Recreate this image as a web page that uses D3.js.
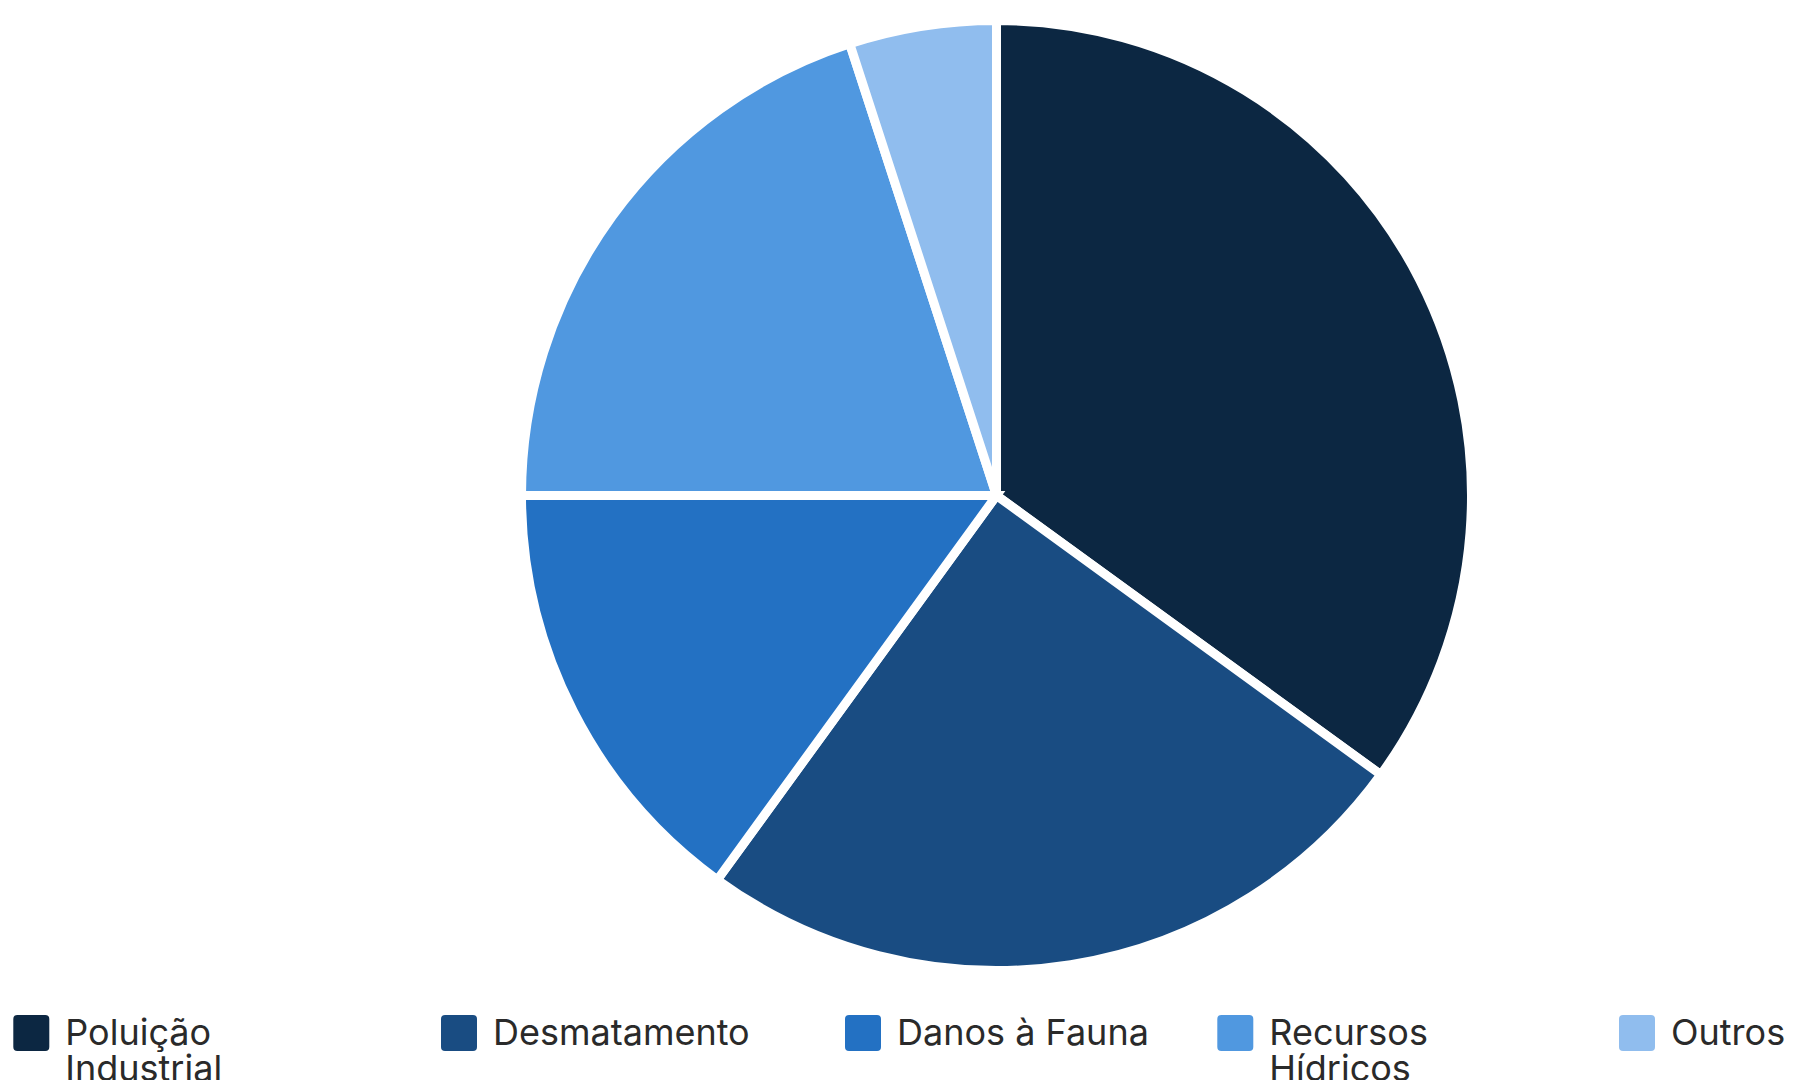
<!DOCTYPE html>
<html lang="pt">
<head>
<meta charset="utf-8">
<script src="https://cdn.jsdelivr.net/npm/d3@7"></script>
<style>
  html, body { margin: 0; padding: 0; background: #ffffff; }
  svg { display: block; }
</style>
</head>
<body>
<svg id="chart" width="1793" height="1080"></svg>
<script>
// ---- Data ----
const categories = ["Poluição Industrial", "Desmatamento", "Danos à Fauna", "Recursos Hídricos", "Outros"];
const values = [35, 25, 15, 20, 5];
const colors = ["#0c2742", "#194c82", "#2371c3", "#5098e0", "#90bdee"];

// ---- Layout ----
const W = 1793, H = 1080;
const cx = 996.5, cy = 495.5, outerR = 475;
const legendItemX = [13.3, 441, 845, 1217.3, 1619];
const legendTop = 1015, swatch = 36, swatchGap = 16;
const fontSize = 36, lineH = 36, wrapWidth = 265;

const svg = d3.select("#chart");

const pie = d3.pie().sort(null).value(d => d.value);
const arc = d3.arc().innerRadius(0).outerRadius(outerR);
const data = categories.map((c, i) => ({ name: c, value: values[i], color: colors[i] }));

const color = d3.scaleOrdinal().domain(categories).range(colors);

svg.append("g")
  .attr("transform", `translate(${cx},${cy})`)
  .selectAll("path")
  .data(pie(data))
  .join("path")
  .attr("d", arc)
  .attr("fill", d => color(d.data.name))
  .attr("stroke", "#ffffff")
  .attr("stroke-width", 9)
  .attr("stroke-linejoin", "miter");

// ---- Legend ----
const legend = svg.append("g").attr("font-family", "Inter, 'Noto Sans', sans-serif");
const items = legend.selectAll("g.item")
  .data(data)
  .join("g")
  .attr("class", "item")
  .attr("transform", (d, i) => `translate(${legendItemX[i]},${legendTop})`);

items.append("rect")
  .attr("width", swatch).attr("height", swatch)
  .attr("rx", 4).attr("ry", 4)
  .attr("fill", d => color(d.name));

items.each(function(d) {
  const g = d3.select(this);
  const text = g.append("text")
    .attr("x", swatch + swatchGap)
    .attr("y", 30)
    .attr("font-size", fontSize)
    .attr("fill", "#2a2a2a");
  const words = d.name.split(" ");
  let line = [];
  let tspan = text.append("tspan").attr("x", swatch + swatchGap).attr("dy", 0);
  words.forEach(w => {
    line.push(w);
    tspan.text(line.join(" "));
    if (tspan.node().getComputedTextLength() > wrapWidth && line.length > 1) {
      line.pop();
      tspan.text(line.join(" "));
      line = [w];
      tspan = text.append("tspan").attr("x", swatch + swatchGap).attr("dy", lineH).text(w);
    }
  });
});
</script>
</body>
</html>
